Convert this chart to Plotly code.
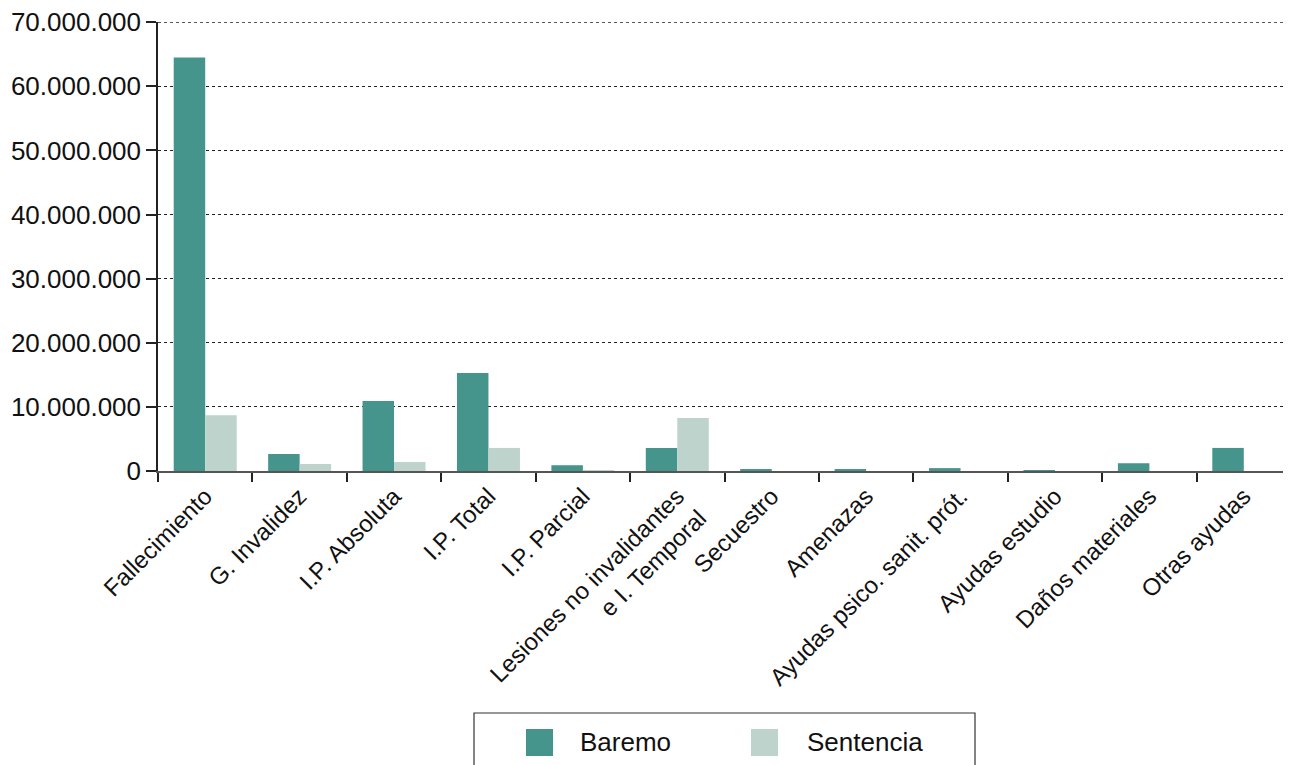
import plotly.graph_objects as go

categories = ["Fallecimiento", "G. Invalidez", "I.P. Absoluta", "I.P. Total", "I.P. Parcial",
              "Lesiones no invalidantes<br>e I. Temporal", "Secuestro", "Amenazas",
              "Ayudas psico. sanit. prót.", "Ayudas estudio", "Daños materiales", "Otras ayudas"]
baremo = [64500000, 2650000, 10900000, 15300000, 900000, 3600000, 300000, 300000,
          450000, 150000, 1200000, 3600000]
sentencia = [8700000, 1100000, 1400000, 3600000, 50000, 8250000, 0, 0, 0, 0, 0, 0]
series_names = ["Baremo", "Sentencia"]
colors = ["#45958D", "#BDD3CC"]
y_ticks = [0, 10000000, 20000000, 30000000, 40000000, 50000000, 60000000, 70000000]

OFF = 8  # default page body margin
W, H = 1291 - OFF, 765 - OFF
# plot-area edges in page pixels
L, T, B_PX, R_PX = 158, 22, 471, 1291
FONT = "Liberation Sans, Arial, Helvetica, sans-serif"


def px_x(p):
    return (p - L) / (R_PX - L)


def px_y(p):
    return (B_PX - p) / (B_PX - T)


fig = go.Figure()
fig.add_trace(go.Bar(x=categories, y=baremo, name=series_names[0], marker_color=colors[0],
                     marker_line_width=0, showlegend=False))
fig.add_trace(go.Bar(x=categories, y=sentencia, name=series_names[1], marker_color=colors[1],
                     marker_line_width=0, showlegend=False))

# top gridline (at the range edge)
shapes = [dict(type="line", xref="paper", yref="y", x0=0, x1=1, y0=y_ticks[-1], y1=y_ticks[-1],
               line=dict(color="#222222", width=1.2, dash="dot"), layer="below")]
# manual legend
shapes.append(dict(type="rect", xref="paper", yref="paper", x0=px_x(474), x1=px_x(975),
                   y0=px_y(713), y1=px_y(790), line=dict(color="#333333", width=1.2),
                   fillcolor="rgba(0,0,0,0)", layer="above"))
annotations = []
for (sx, tx), name, c in zip([(526, 578), (751, 805)], series_names, colors):
    shapes.append(dict(type="rect", xref="paper", yref="paper", x0=px_x(sx), x1=px_x(sx + 27),
                       y0=px_y(729), y1=px_y(756), line=dict(width=0), fillcolor=c))
    annotations.append(dict(xref="paper", yref="paper", x=px_x(tx), y=px_y(742), text=name,
                            showarrow=False, xanchor="left", yanchor="middle",
                            font=dict(size=26, color="#111111", family=FONT)))

fig.update_layout(
    width=W, height=H,
    margin=dict(l=L - OFF, r=(W + OFF) - R_PX, t=T - OFF, b=(H + OFF) - B_PX, pad=0,
                autoexpand=False),
    paper_bgcolor="white", plot_bgcolor="white",
    barmode="group", bargap=0.333, bargroupgap=0,
    separators=",.",
    font=dict(family=FONT, size=26, color="#111111"),
    shapes=shapes, annotations=annotations,
    showlegend=False,
)
fig.update_xaxes(
    automargin=False,
    tickangle=-45, tickson="boundaries", ticks="outside", ticklen=9, tickwidth=1.5,
    tickcolor="#222222", showline=True, linecolor="#555555", linewidth=1.5,
    showgrid=False, tickfont=dict(size=24, family=FONT, color="#111111"),
)
fig.update_yaxes(
    automargin=False, ticklabeloverflow="allow",
    range=[0, 70040000], tickvals=y_ticks,
    tickformat=",d", ticks="outside", ticklen=10,
    tickwidth=1.5, tickcolor="#222222", showline=True, linecolor="#222222", linewidth=1.5,
    showgrid=True, gridcolor="#222222", griddash="dot", gridwidth=1.2, zeroline=False,
    tickfont=dict(size=26, family=FONT, color="#111111"),
)

fig.write_html("out.html")
